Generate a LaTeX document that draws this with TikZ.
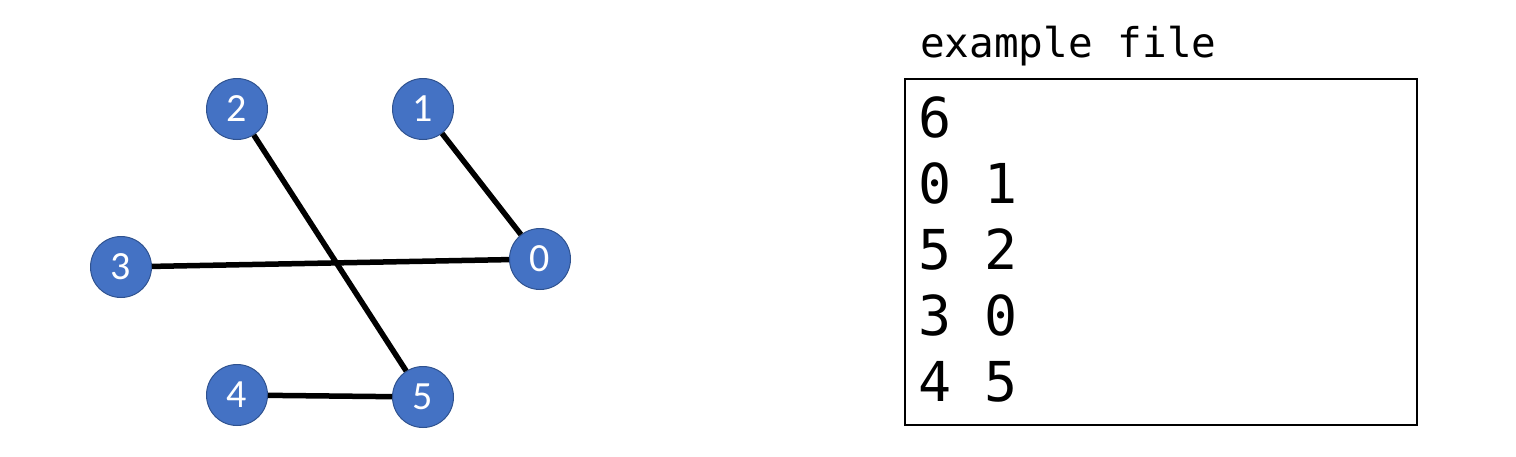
\documentclass[tikz,border=0pt]{standalone}
\usepackage{fontspec}
\newfontfamily\nodefont{Carlito}
\setmonofont{DejaVu Sans Mono}
\definecolor{vtxfill}{RGB}{68,114,196}
\definecolor{vtxline}{RGB}{47,82,143}

\begin{document}
\begin{tikzpicture}[
    x=1pt, y=-1pt,
    vertex/.style = {circle, fill=vtxfill, draw=vtxline, line width=1pt,
        minimum size=61pt, inner sep=0pt, text=white,
        font=\nodefont\fontsize{40}{40}\selectfont},
    edge/.style = {line width=5.5pt, black},
    filetext/.style = {inner sep=0pt, anchor=base west,
        font=\ttfamily\fontsize{55}{66}\selectfont}
     ]
  \useasboundingbox (0,0) rectangle (1516,456);
  % graph
  \node[vertex] (n0) at (540,259) {0};
  \node[vertex] (n1) at (423,109) {1};
  \node[vertex] (n2) at (237,109) {2};
  \node[vertex] (n3) at (121,267) {3};
  \node[vertex] (n4) at (237,395) {4};
  \node[vertex] (n5) at (423,397) {5};
  \draw[edge] (n0) -- (n1);
  \draw[edge] (n5) -- (n2);
  \draw[edge] (n3) -- (n0);
  \draw[edge] (n4) -- (n5);
  % file
  \node[draw, line width=2pt, minimum width=512pt, minimum height=346pt,
        inner sep=0pt] (filebox) at (1161,252) {};
  \node[inner sep=0pt, anchor=base west, font=\ttfamily\fontsize{41}{41}\selectfont]
        (title) at (920,57) {example file};
  \foreach \row [count=\i] in {6,0 1,5 2,3 0,4 5}
    \node[filetext] (line\i) at (918,71+66*\i) {\row};
\end{tikzpicture}
\end{document}
